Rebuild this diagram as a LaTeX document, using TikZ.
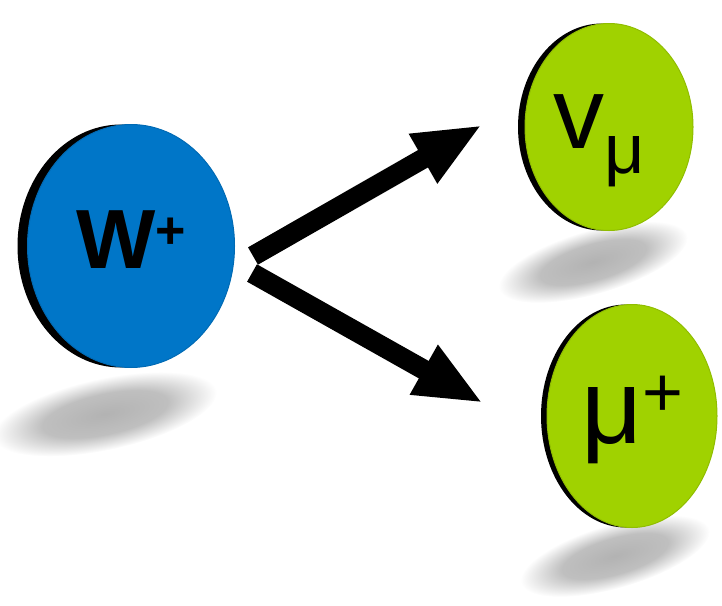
\documentclass[tikz,border=0pt]{standalone}
\usepackage{fontspec}
\setmainfont{Liberation Sans}
\usetikzlibrary{positioning,arrows.meta,shapes.geometric,shadows}
\definecolor{wblue}{RGB}{0,118,200}
\definecolor{lgreen}{RGB}{160,210,0}
\pgfdeclareradialshading{blurshadow}{\pgfpoint{0bp}{0bp}}{%
  color(0bp)=(black!30); color(14bp)=(black!25); color(25bp)=(white); color(50bp)=(white)}
\tikzset{
  coin/.style 2 args={ellipse,inner sep=0pt,fill=#1,draw=#1!90!black,line width=1pt,
    general shadow={fill=black,shadow xshift=-#2}},
  floorshadow/.style={shading=blurshadow},
  decay/.style={line width=20pt,-{Triangle[length=68pt,width=52pt]}},
}
\begin{document}
\begin{tikzpicture}[x=1pt,y=-1pt]
  \useasboundingbox (0,0) rectangle (722,605);
  % soft shadows on the floor
  \shade[floorshadow,transform canvas={rotate around={12:(105,414)}}] (105,414) ellipse (114 and 36);
  \shade[floorshadow,transform canvas={rotate around={16:(593,262)}}] (593,262) ellipse (98 and 32);
  \shade[floorshadow,transform canvas={rotate around={16:(615,556)}}] (615,556) ellipse (98 and 32);

  % the three particles
  \node[coin={wblue}{10pt},minimum width=207pt,minimum height=243pt,text height=44pt,text depth=0pt]
    (w) at (131,246) {\fontsize{84}{84}\selectfont\bfseries W\raisebox{20pt}{\fontsize{52}{52}\selectfont +}};
  \node[coin={lgreen}{7pt},minimum width=168pt,minimum height=207pt,text height=42pt,text depth=0pt]
    (nu) at (609,127) {\fontsize{102}{102}\selectfont v\raisebox{-25pt}{\fontsize{70}{70}\selectfont μ}\kern20pt};
  \node[coin={lgreen}{6pt},minimum width=170pt,minimum height=223pt,text height=54pt,text depth=0pt]
    (mu) at (632,416) {\fontsize{106}{106}\selectfont μ\raisebox{27pt}{\fontsize{70}{70}\selectfont +}};

  % decay arrows
  \coordinate (w-up) at (253,256);
  \coordinate (w-down) at (252,273);
  \coordinate (nu-in) at (482,125);
  \coordinate (mu-in) at (483,403);
  \draw[decay] (w-up) -- (nu-in);
  \draw[decay] (w-down) -- (mu-in);
\end{tikzpicture}
\end{document}
